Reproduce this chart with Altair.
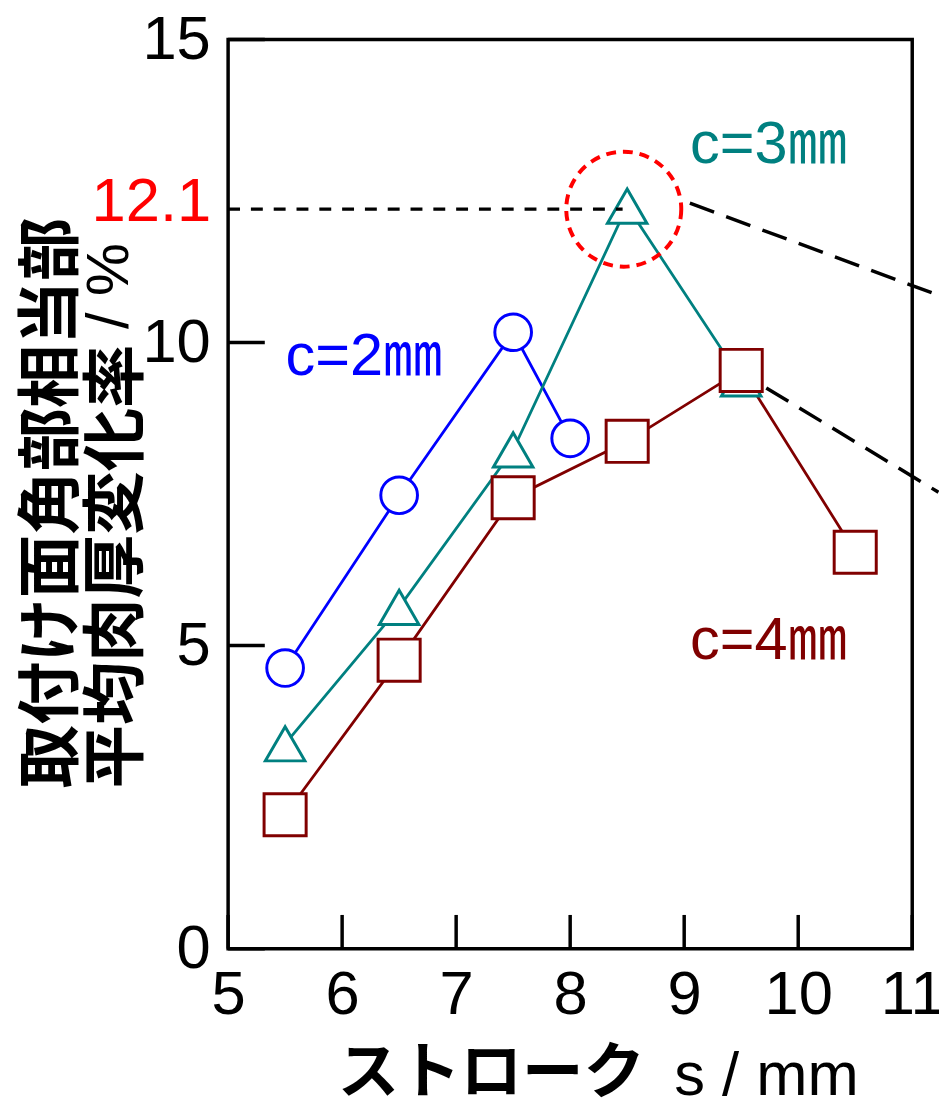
import altair as alt
import pandas as pd

# ---- data ----
series_names = ["c=2", "c=3", "c=4"]
series_colors = ["#0000FF", "#008080", "#800000"]
series_shapes = ["circle", "triangle-up", "square"]
series_sizes = [1369, 1800, 1320]

c2_x = [5.5, 6.5, 7.5, 8.0]
c2_y = [4.63, 7.48, 10.17, 8.42]
c3_x = [5.5, 6.5, 7.5, 8.5, 9.5]
c3_y = [3.38, 5.63, 8.23, 12.25, 9.40]
c4_x = [5.5, 6.5, 7.5, 8.5, 9.5, 10.5]
c4_y = [2.21, 4.76, 7.44, 8.37, 9.54, 6.54]

x_ticks = [5, 6, 7, 8, 9, 10, 11]
y_ticks = [0, 5, 10, 15]

peak_value_label = "12.1"
peak_line_y = 12.2
peak_line_x = [5.0, 8.46]
peak_circle = (8.47, 12.2)

lead_x1 = [9.05, 9.72]
lead_y1 = [12.30, 9.25]
lead_x2 = [11.23, 11.23]
lead_y2 = [10.78, 7.53]

ann_text = ["c=2㎜", "c=3㎜", "c=4㎜"]
ann_x = [5.504, 9.052, 9.052]
ann_y = [9.47, 12.96, 4.78]

x_title_jp = "ストローク"
x_title_unit = "s / mm"
y_title_jp = ["取付け面角部相当部", "平均肉厚変化率"]
y_title_unit = "/ %"

W, H = 690, 917
LATIN = "Liberation Sans"
MIXED = "Liberation Sans, Noto Sans CJK JP"
CJK = "Noto Sans CJK JP"

# ---- tables ----
rows = []
for name, xs_, ys_ in zip(series_names, [c2_x, c3_x, c4_x], [c2_y, c3_y, c4_y]):
    for a, b in zip(xs_, ys_):
        rows.append({"series": name, "x": a, "y": b})
df = pd.DataFrame(rows)

xs = alt.Scale(domain=[5, 11], nice=False, zero=False)
ys = alt.Scale(domain=[0, 15], nice=False)

x_axis = alt.Axis(
    values=x_ticks, format="d", grid=False, ticks=False, domain=False,
    labelFont=LATIN, labelFontSize=62, labelColor="black", labelPadding=16,
    labelFlush=False, labelOverlap=False,
    title=x_title_jp, titleFont=CJK, titleFontSize=62, titleFontWeight="bold",
    titleColor="black", titleX=110, titleY=126, titleAlign="left",
    titleBaseline="middle",
)
y_axis = alt.Axis(
    values=y_ticks, format="d", grid=False, ticks=False, domain=False,
    labelFont=LATIN, labelFontSize=62, labelColor="black", labelPadding=18,
    labelFlush=False, labelOverlap=False,
    title=y_title_jp, titleFont=CJK, titleFontSize=64, titleFontWeight="bold",
    titleColor="black", titleAngle=270, titleX=-177, titleY=755,
    titleAlign="left", titleBaseline="middle", titleLineHeight=66,
)

X = alt.X("x:Q", scale=xs, axis=x_axis)
Y = alt.Y("y:Q", scale=ys, axis=y_axis)

color_scale = alt.Scale(domain=series_names, range=series_colors)

lines = alt.Chart(df).mark_line(strokeWidth=2.8).encode(
    x=X, y=Y,
    color=alt.Color("series:N", scale=color_scale, legend=None),
)

points = alt.Chart(df).mark_point(
    filled=True, fill="white", opacity=1, fillOpacity=1, strokeWidth=3
).encode(
    x=X, y=Y,
    stroke=alt.Stroke("series:N", scale=color_scale, legend=None),
    shape=alt.Shape("series:N", scale=alt.Scale(domain=series_names, range=series_shapes), legend=None),
    size=alt.Size("series:N", scale=alt.Scale(domain=series_names, range=series_sizes), legend=None),
)

ytick_df = pd.DataFrame({"y": y_ticks})
yticks = alt.Chart(ytick_df).mark_rule(color="black", strokeWidth=3.5).encode(
    y=Y, x=alt.value(0), x2=alt.value(37)
)
xtick_df = pd.DataFrame({"x": x_ticks})
xticks = alt.Chart(xtick_df).mark_rule(color="black", strokeWidth=3.5).encode(
    x=X, y=alt.value(H), y2=alt.value(H - 34)
)

hline_df = pd.DataFrame({"x": [peak_line_x[0]], "x2": [peak_line_x[1]], "y": [peak_line_y]})
hline = alt.Chart(hline_df).mark_rule(color="black", strokeWidth=3.2, strokeDash=[12, 11]).encode(
    x=X, x2="x2:Q", y=Y
)

lead_df = pd.DataFrame({"x": lead_x1, "y": lead_y1, "x2": lead_x2, "y2": lead_y2})
leads = alt.Chart(lead_df).mark_rule(color="black", strokeWidth=3.5, strokeDash=[26, 13]).encode(
    x=X, y=Y, x2="x2:Q", y2="y2:Q"
)

circ_df = pd.DataFrame({"x": [peak_circle[0]], "y": [peak_circle[1]]})
circ = alt.Chart(circ_df).mark_point(
    shape="circle", size=13456, filled=False, stroke="#FF0000", strokeWidth=4,
    strokeDash=[10, 7], opacity=1
).encode(x=X, y=Y)

peak_lab_df = pd.DataFrame({"x": [5.0], "y": [peak_line_y], "t": [peak_value_label]})
peak_lab = alt.Chart(peak_lab_df).mark_text(
    font=LATIN, fontSize=62, color="#FF0000", align="right", baseline="alphabetic",
    dx=-17, dy=12
).encode(x=X, y=Y, text="t:N")

ann_df = pd.DataFrame({"x": ann_x, "y": ann_y, "t": ann_text, "series": series_names})
ann = alt.Chart(ann_df).mark_text(
    font=MIXED, fontSize=60, align="left", baseline="alphabetic"
).encode(
    x=X, y=Y, text="t:N",
    color=alt.Color("series:N", scale=color_scale, legend=None),
)

# unit parts of the axis titles (regular Latin, as in the reference)
xunit = alt.Chart(pd.DataFrame({"t": [x_title_unit]})).mark_text(
    font=LATIN, fontSize=62, color="black", align="left", baseline="alphabetic"
).encode(text="t:N", x=alt.value(450), y=alt.value(1065))

yunit = alt.Chart(pd.DataFrame({"t": [y_title_unit]})).mark_text(
    font=LATIN, fontSize=60, color="black", align="left", baseline="middle", angle=270
).encode(text="t:N", x=alt.value(-119), y=alt.value(292))

chart = alt.layer(
    yticks, xticks, lines, points, hline, leads, circ, peak_lab, ann, xunit, yunit
).properties(
    width=W, height=H,
    padding={"left": 222, "top": 27, "right": 27, "bottom": 160},
    autosize=alt.AutoSizeParams(type="none"),
    background="white",
).configure_view(
    stroke="black", strokeWidth=3.5
)

chart.save("out.html", embed_options={"renderer": "svg", "actions": False})
